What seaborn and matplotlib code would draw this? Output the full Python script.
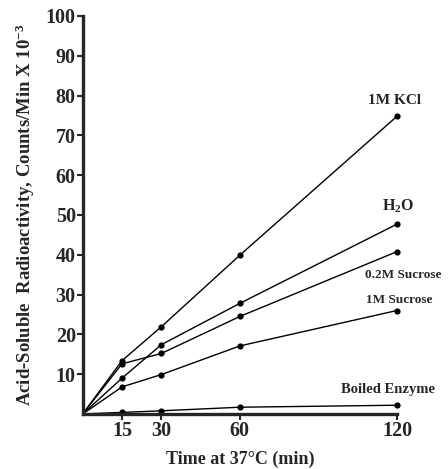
import matplotlib
matplotlib.use("Agg")
import matplotlib.pyplot as plt
import seaborn as sns
import pandas as pd

# ---- data ----
times = [0, 15, 30, 60, 120]
kcl_1m = [0, 13.4, 21.9, 39.9, 74.8]
h2o = [0, 9.0, 17.4, 27.8, 47.7]
sucrose_02m = [0, 12.6, 15.2, 24.5, 40.8]
sucrose_1m = [0, 6.8, 9.9, 17.1, 26.0]
boiled = [0, 0.4, 0.8, 1.7, 2.2]
series_names = ["1M KCl", "H$_2$O", "0.2M Sucrose", "1M Sucrose", "Boiled Enzyme"]
series_values = [kcl_1m, h2o, sucrose_02m, sucrose_1m, boiled]
x_ticks = [15, 30, 60, 120]
y_ticks = [10, 20, 30, 40, 50, 60, 70, 80, 90, 100]

rows = []
for name, vals in zip(series_names, series_values):
    for t, v in zip(times, vals):
        rows.append({"time": t, "value": v, "series": name})
df = pd.DataFrame(rows)

sns.set_style("ticks")
plt.rcParams["font.family"] = ["Liberation Serif", "DejaVu Serif"]
plt.rcParams["font.weight"] = "bold"
plt.rcParams["mathtext.fontset"] = "custom"
plt.rcParams["mathtext.rm"] = "Liberation Serif:bold"
plt.rcParams["mathtext.it"] = "Liberation Serif:bold"

fig = plt.figure(figsize=(4.48, 4.69), dpi=100)
ax = fig.add_axes([0.1846, 0.1173, 0.7015, 0.8486])

sns.lineplot(data=df, x="time", y="value", hue="series",
             palette={n: "black" for n in series_names},
             marker="o", markersize=4.5, markeredgewidth=0,
             linewidth=1.0, legend=False, ax=ax, estimator=None,
             markevery=[1, 2, 3, 4], clip_on=False)

ax.set_xlim(0, 120)
ax.set_ylim(0, 100)
ax.set_xticks(x_ticks)
ax.set_yticks(y_ticks)
ax.set_xticklabels([str(t) for t in x_ticks], fontsize=14.5, fontweight="bold")
ax.set_yticklabels([str(t) for t in y_ticks], fontsize=14.5, fontweight="bold")
ax.tick_params(direction="out", length=4, width=1.5, pad=1)
sns.despine(ax=ax)
for s in ["left", "bottom"]:
    ax.spines[s].set_linewidth(2.4)

ax.set_xlabel("Time at 37°C (min)", fontsize=13, fontweight="bold", labelpad=7)
ax.set_ylabel("Acid-Soluble  Radioactivity, Counts/Min X 10$^{-3}$",
              fontsize=13.5, fontweight="bold", labelpad=6)

# series labels near the end points
offsets = {
    "1M KCl": (-1.5, 11.5, 11),
    "H$_2$O": (0.7, 13, 11.5),
    "0.2M Sucrose": (4.5, -17, 9.5),
    "1M Sucrose": (1.5, 7.5, 9.5),
    "Boiled Enzyme": (-6.5, 11.5, 10.5),
}
for name, vals in zip(series_names, series_values):
    dx, dy, fs = offsets[name]
    ax.annotate(name, xy=(times[-1], vals[-1]), xytext=(dx, dy),
                textcoords="offset points", ha="center", va="center",
                fontsize=fs, fontweight="bold", annotation_clip=False)

fig.savefig("out.png", dpi=100)
